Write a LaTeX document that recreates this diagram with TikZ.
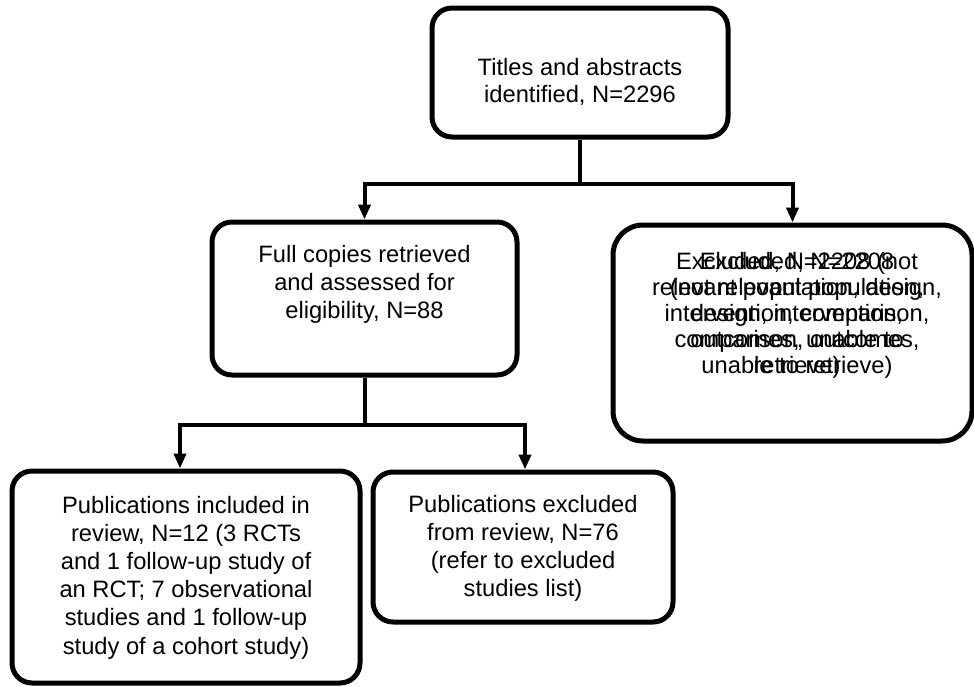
\documentclass[tikz,border=0pt]{standalone}
\usepackage{fontspec}
\setmainfont{Liberation Sans}
\usetikzlibrary{positioning,arrows.meta}

\begin{document}
\begin{tikzpicture}[x=0.5pt,y=-0.5pt,
    box/.style={draw,line width=2.5pt,rounded corners=10pt,inner sep=0pt},
    txt/.style={align=center,inner sep=0pt,font=\fontsize{11.85}{13.9}\selectfont},
    arr/.style={line width=2pt,-{Triangle[length=7.5pt,width=6pt]}}]
\useasboundingbox (0,0) rectangle (974,686);

% Boxes
\node[box,minimum width=148pt,minimum height=64.5pt] (ident) at (580,72.5) {};
\node[box,minimum width=152.5pt,minimum height=76.5pt] (fulltext) at (364.5,298.5) {};
\node[box,rounded corners=15pt,minimum width=179.5pt,minimum height=108pt] (excluded) at (792.5,333) {};
\node[box,minimum width=174pt,minimum height=106pt] (included) at (186,577) {};
\node[box,minimum width=150pt,minimum height=75pt] (rejected) at (523,547) {};

% Box texts
\node[txt] (identtxt) at (580,82) {Titles and abstracts\\identified, N=2296};
\node[txt] (fulltxt) at (364.5,284.5) {Full copies retrieved\\and assessed for\\eligibility, N=88};
\begin{scope}[nodes={txt,font=\fontsize{11.85}{13}\selectfont}]
\node (excludedtxta) at (797,315) {Excluded, N=2208 (not\\relevant population, design,\\intervention, comparison,\\outcomes, unable to\\retrieve)};
\node (excludedtxtb) at (797,315) {Excluded, N=2208\\(not relevant population,\\design, intervention,\\comparison, outcomes,\\unable to retrieve)};
\end{scope}
\node[txt,font=\fontsize{11.85}{14.1}\selectfont] (includedtxt) at (186,577.5) {Publications included in\\review, N=12 (3 RCTs\\and 1 follow-up study of\\an RCT; 7 observational\\studies and 1 follow-up\\study of a cohort study)};
\node[txt] (rejectedtxt) at (523,548.5) {Publications excluded\\from review, N=76\\(refer to excluded\\studies list)};

% Connectors
\draw[arr] (ident.south) -- ++(0,44) -| (fulltext.north);
\draw[arr] (ident.south) -- ++(0,44) -| (excluded.north);
\draw[arr] (fulltext.south) -- ++(0,47) -| ([xshift=-3pt]included.north);
\draw[arr] (fulltext.south) -- ++(0,47) -| ([xshift=1pt]rejected.north);

\end{tikzpicture}
\end{document}
